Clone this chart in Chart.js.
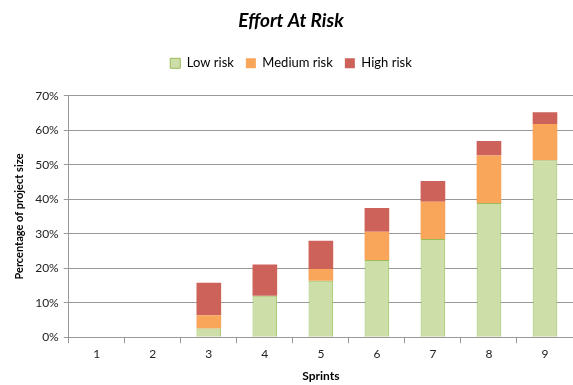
<!DOCTYPE html>
<html>
<head>
<meta charset="utf-8">
<script src="https://cdn.jsdelivr.net/npm/chart.js@4"></script>
<style>
  body { margin: 0; background: #fff; }
  #wrap { width: 573px; height: 385px; }
</style>
</head>
<body>
<div id="wrap"><canvas id="chart"></canvas></div>
<script>
const sprints = ["1", "2", "3", "4", "5", "6", "7", "8", "9"];
const lowRisk = [0, 0, 2.5, 12, 16.4, 22.4, 28.5, 38.9, 51.3];
const mediumRisk = [0, 0, 3.9, 0, 3.4, 8.2, 10.8, 13.8, 10.5];
const highRisk = [0, 0, 9.4, 9.1, 8.2, 6.9, 6, 4.2, 3.4];

const font = "Lato, 'Open Sans', sans-serif";

// extra room under the legend
const legendGap = {
  id: "legendGap",
  beforeInit(chart) {
    const fit = chart.legend.fit;
    chart.legend.fit = function () {
      fit.bind(chart.legend)();
      this.height += 16;
    };
  }
};

new Chart(document.getElementById("chart"), {
  type: "bar",
  data: {
    labels: sprints,
    datasets: [
      { label: "Low risk", data: lowRisk, backgroundColor: "#cddea9", borderColor: "#9bbb59", borderWidth: 1 },
      { label: "Medium risk", data: mediumRisk, backgroundColor: "#f9a65a", borderWidth: 0 },
      { label: "High risk", data: highRisk, backgroundColor: "#cd625b", borderWidth: 0 }
    ]
  },
  plugins: [legendGap],
  options: {
    responsive: true,
    maintainAspectRatio: false,
    animation: false,
    layout: { padding: { left: 9, right: 0, top: 5, bottom: 2 } },
    datasets: { bar: { categoryPercentage: 1, barPercentage: 0.44 } },
    plugins: {
      title: {
        display: true,
        text: "Effort At Risk",
        color: "#000",
        font: { family: font, size: 19, weight: "bold", style: "italic" },
        padding: { top: 4, bottom: 13 }
      },
      legend: {
        labels: {
          boxWidth: 10, boxHeight: 10, color: "#000", padding: 12,
          font: { family: font, size: 13 }
        }
      },
      tooltip: { enabled: false }
    },
    scales: {
      x: {
        stacked: true,
        grid: { display: true, drawOnChartArea: false, drawTicks: true, tickLength: 6, color: "#999", offset: true },
        border: { color: "#999" },
        ticks: { color: "#222", padding: 4, font: { family: font, size: 12 } },
        title: { display: true, text: "Sprints", color: "#000", font: { family: font, size: 12, weight: "bold" }, padding: { top: 3, bottom: 0 } }
      },
      y: {
        stacked: true,
        min: 0,
        max: 70,
        grid: { color: "#999", tickLength: 5 },
        border: { color: "#999" },
        ticks: { stepSize: 10, padding: 5, color: "#222", font: { family: font, size: 12 }, callback: v => v + "%" },
        title: { display: true, text: "Percentage of project size", color: "#000", font: { family: font, size: 11, weight: "bold" } }
      }
    }
  }
});
</script>
</body>
</html>
